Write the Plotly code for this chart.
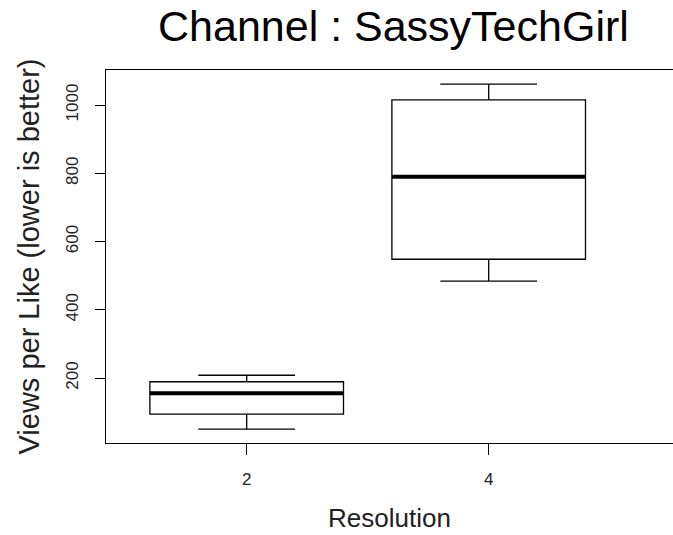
import plotly.graph_objects as go

# Data
categories = ["2", "4"]
lower_whisker = [50, 484]
q1 = [94, 548]
median = [155, 790]
q3 = [189, 1015]
upper_whisker = [208, 1061]

positions = [1, 2]
BOX_W = 0.8
FONT = "Liberation Sans, Arial, Helvetica, sans-serif"

fig = go.Figure()
fig.add_trace(go.Box(
    x=positions,
    q1=q1, median=median, q3=q3,
    lowerfence=lower_whisker, upperfence=upper_whisker,
    width=BOX_W, whiskerwidth=0.5,
    fillcolor="white",
    line=dict(color="black", width=1.3),
    boxpoints=False, hoverinfo="skip", showlegend=False,
))

# Thick median lines (R style)
for p, m in zip(positions, median):
    fig.add_trace(go.Scatter(
        x=[p - BOX_W / 2, p + BOX_W / 2], y=[m, m],
        mode="lines", line=dict(color="black", width=4),
        hoverinfo="skip", showlegend=False,
    ))

fig.update_layout(
    width=673, height=535, autosize=False,
    margin=dict(l=106, r=0, t=70, b=92),
    plot_bgcolor="white", paper_bgcolor="white",
    font=dict(family=FONT, color="black"),
    xaxis=dict(
        range=[0.4186, 2.7616],
        tickvals=positions, ticktext=categories,
        showgrid=False, zeroline=False,
        showline=True, linecolor="black", linewidth=1, mirror=True,
        ticks="outside", ticklen=11, tickcolor="black", tickwidth=1,
        tickfont=dict(size=17, family=FONT, color="#222"),
        ticklabelstandoff=10,
    ),
    yaxis=dict(
        range=[9.5, 1102.6],
        tickvals=[200, 400, 600, 800, 1000],
        showgrid=False, zeroline=False,
        showline=True, linecolor="black", linewidth=1,
        ticks="outside", ticklen=10, tickcolor="black", tickwidth=1,
        tickangle=-90,
        tickfont=dict(size=17, family=FONT, color="#222"),
        ticklabelstandoff=10,
    ),
    annotations=[
        dict(text="Channel : SassyTechGirl", xref="paper", yref="paper",
             x=0.507, y=1, yshift=44, xanchor="center", yanchor="middle",
             showarrow=False, font=dict(size=43, family=FONT, color="black")),
        dict(text="Resolution", xref="paper", yref="paper",
             x=0.5, y=0, yshift=-58, xanchor="center", yanchor="top",
             showarrow=False, font=dict(size=26, family=FONT, color="#222")),
        dict(text="Views per Like (lower is better)", xref="paper", yref="paper",
             x=0, y=0.5, xshift=-78, textangle=-90, xanchor="center", yanchor="middle",
             showarrow=False, font=dict(size=29, family=FONT, color="#222")),
    ],
)

fig.write_html(
    "out.html",
    config={"displayModeBar": False},
    post_script="document.body.style.margin='0';document.body.style.overflow='hidden';",
)
